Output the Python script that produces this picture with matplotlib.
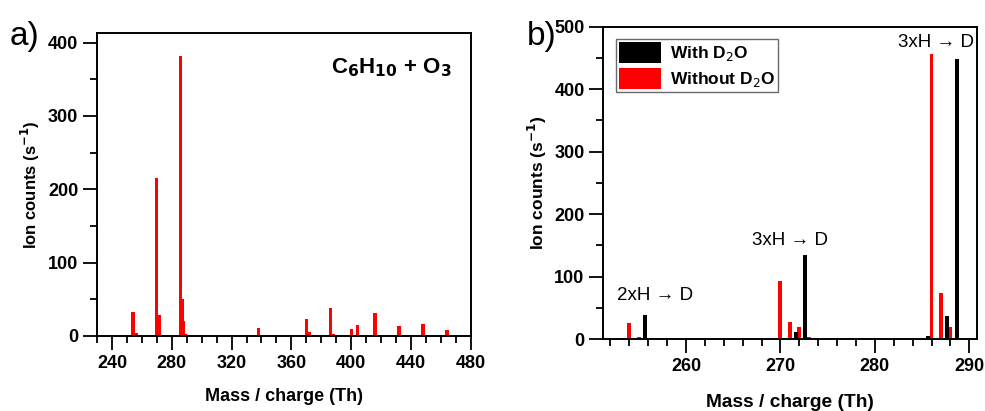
import matplotlib.pyplot as plt
from matplotlib.ticker import MultipleLocator

plt.rcParams["font.family"] = ["Liberation Sans", "DejaVu Sans"]

# panel a: C6H10 + O3 spectrum
A_MASS = [254, 256, 270, 272, 286, 287, 288, 289, 338, 370, 372,
          386, 388, 400, 404, 416, 432, 448, 464]
A_COUNTS = [33, 4, 216, 28, 382, 51, 20, 3, 11, 23, 5,
            38, 3, 9, 15, 32, 14, 17, 8]

# panel b: with / without D2O
WITH_MASS = [255.65, 271.65, 272.65, 285.65, 286.65, 287.65, 288.65]
WITH_COUNTS = [38, 11, 135, 5, 2, 37, 448]
WITHOUT_MASS = [254, 255, 256, 270, 271, 272, 273, 286, 287, 288, 289]
WITHOUT_COUNTS = [26, 3, 2, 93, 28, 20, 3, 456, 73, 20, 2]

ANNOTATIONS = [("2xH \u2192 D", 256.7, 69), ("3xH \u2192 D", 271.0, 158),
               ("3xH \u2192 D", 286.5, 475)]


def style_axes(ax, fs):
    for s in ax.spines.values():
        s.set_linewidth(1.4)
    ax.tick_params(which="major", direction="out", length=10, width=1.3,
                   labelsize=fs)
    ax.tick_params(which="minor", direction="out", length=5, width=1.3)
    for lab in ax.get_xticklabels() + ax.get_yticklabels():
        lab.set_fontweight("bold")


def main():
    fig = plt.figure(figsize=(9.85, 4.11), dpi=100)

    ax = fig.add_axes([0.0985, 0.1825, 0.3795, 0.737])
    ax.bar(A_MASS, A_COUNTS, width=2.2, color="#ff0000", linewidth=0)
    ax.set_xlim(230, 480)
    ax.set_ylim(0, 413)
    ax.xaxis.set_major_locator(MultipleLocator(40))
    ax.xaxis.set_minor_locator(MultipleLocator(10))
    ax.yaxis.set_major_locator(MultipleLocator(100))
    ax.yaxis.set_minor_locator(MultipleLocator(50))
    style_axes(ax, 13)
    ax.set_xlabel("Mass / charge (Th)", fontsize=13, fontweight="bold", labelpad=12)
    ax.set_ylabel("Ion counts (s$^{\\mathbf{-1}}$)", fontsize=12, fontweight="bold",
                  labelpad=4)
    ax.text(0.95, 0.885, "C$_\\mathbf{6}$H$_\\mathbf{10}$ + O$_\\mathbf{3}$",
            transform=ax.transAxes, ha="right", va="center", fontsize=16,
            fontweight="bold")
    fig.text(0.01, 0.89, "a)", fontsize=24)

    bx = fig.add_axes([0.6125, 0.175, 0.3797, 0.76])
    bx.bar(WITHOUT_MASS, WITHOUT_COUNTS, width=0.42, color="#ff0000",
           linewidth=0, label="Without D$_2$O")
    bx.bar(WITH_MASS, WITH_COUNTS, width=0.42, color="black", linewidth=0,
           label="With D$_2$O")
    bx.set_xlim(251.25, 290.85)
    bx.set_ylim(0, 500)
    bx.xaxis.set_major_locator(MultipleLocator(10))
    bx.xaxis.set_minor_locator(MultipleLocator(2))
    bx.yaxis.set_major_locator(MultipleLocator(100))
    bx.yaxis.set_minor_locator(MultipleLocator(50))
    style_axes(bx, 13)
    bx.set_xlabel("Mass / charge (Th)", fontsize=13.8, fontweight="bold", labelpad=14)
    bx.set_ylabel("Ion counts (s$^{\\mathbf{-1}}$)", fontsize=12.5, fontweight="bold",
                  labelpad=4)
    for txt, x, y in ANNOTATIONS:
        bx.text(x, y, txt, ha="center", va="center", fontsize=13.5)
    h, l = bx.get_legend_handles_labels()
    leg = bx.legend(h[::-1], l[::-1], loc="upper left", frameon=True,
                    fancybox=False, edgecolor="#444444",
                    handlelength=2.4, handleheight=1.5, borderpad=0.2,
                    labelspacing=0.25, handletextpad=0.5,
                    bbox_to_anchor=(0.01, 0.99), prop={"weight": "bold", "size": 12.5})
    leg.get_frame().set_linewidth(1.0)
    fig.text(0.535, 0.89, "b)", fontsize=24)

    fig.savefig("out.png", dpi=100)


if __name__ == "__main__":
    main()
